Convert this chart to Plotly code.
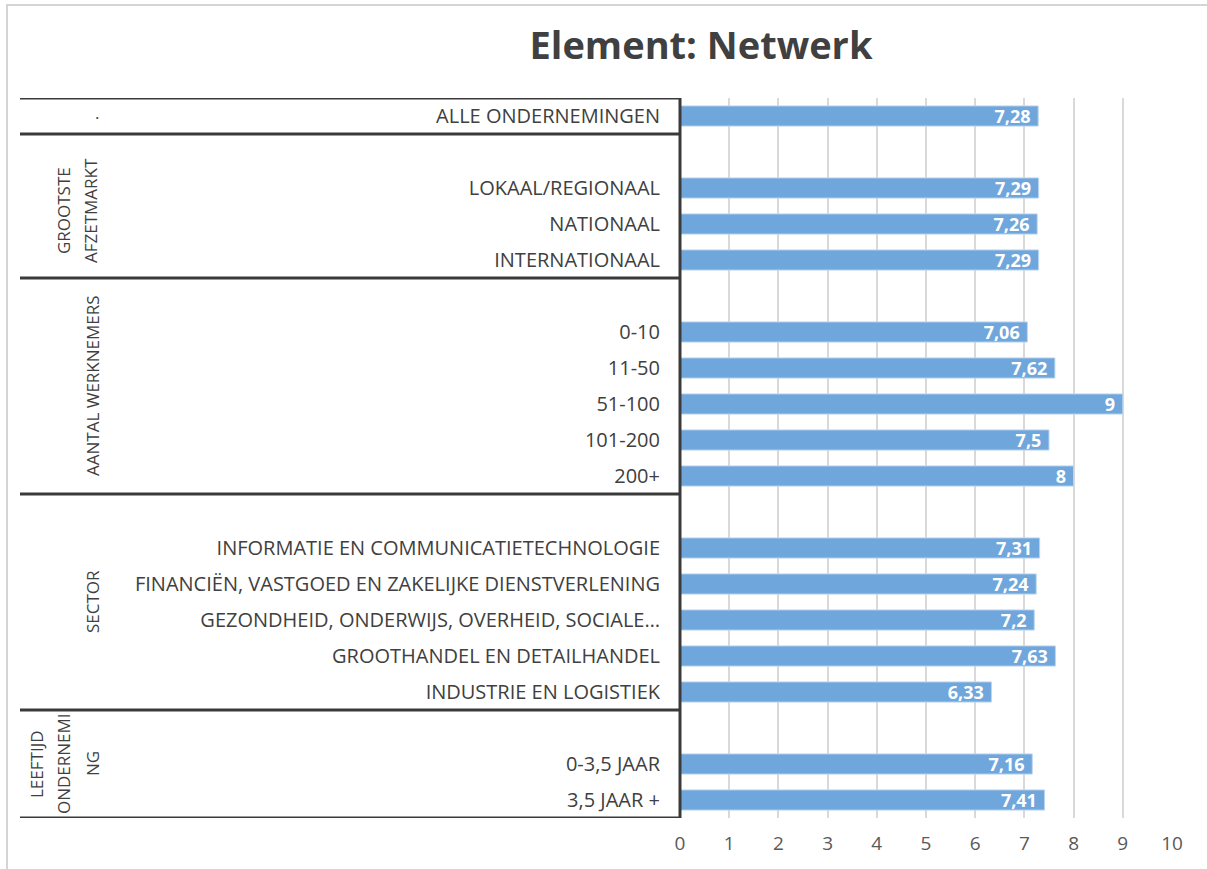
import plotly.graph_objects as go

title = "Element: Netwerk"

# rows top-to-bottom; "" marks blank spacer rows
categories = [
    "ALLE ONDERNEMINGEN", "",
    "LOKAAL/REGIONAAL", "NATIONAAL", "INTERNATIONAAL", "",
    "0-10", "11-50", "51-100", "101-200", "200+", "",
    "INFORMATIE EN COMMUNICATIETECHNOLOGIE",
    "FINANCIËN, VASTGOED EN ZAKELIJKE DIENSTVERLENING",
    "GEZONDHEID, ONDERWIJS, OVERHEID, SOCIALE…",
    "GROOTHANDEL EN DETAILHANDEL",
    "INDUSTRIE EN LOGISTIEK", "",
    "0-3,5 JAAR", "3,5 JAAR +",
]
values = [
    7.28, None,
    7.29, 7.26, 7.29, None,
    7.06, 7.62, 9, 7.5, 8, None,
    7.31, 7.24, 7.2, 7.63, 6.33, None,
    7.16, 7.41,
]
# group labels (lines of rotated text) and their row spans
group_labels = [
    ["."],
    ["GROOTSTE", "AFZETMARKT"],
    ["AANTAL WERKNEMERS"],
    ["SECTOR"],
    ["LEEFTIJD", "ONDERNEMI", "NG"],
]
group_spans = [(0, 0), (1, 4), (5, 10), (11, 16), (17, 19)]
x_ticks = list(range(0, 11))

W, H = 1207, 869
ml, mr, mt, mb = 680, 35, 98, 51
pw = W - ml - mr
ph = H - mt - mb

def px_to_paper(px):
    return (px - ml) / pw

def py_to_paper(py):
    return 1 - (py - mt) / ph

n = len(categories)
ypos = list(range(n))
labels = [("" if v is None else str(v).replace(".", ",") + "\u00a0") for v in values]

FONT = "Open Sans"
fig = go.Figure()
fig.add_trace(go.Bar(
    x=values, y=ypos, orientation="h",
    marker=dict(color="#6fa6db", line=dict(color="#bcd6f0", width=1)),
    text=labels, textposition="inside", insidetextanchor="end",
    textangle=0, constraintext="none",
    textfont=dict(family=FONT, size=18, color="white", weight=700),
    cliponaxis=False, hoverinfo="skip",
))

shapes = []
line_col = "#3a3a3a"
seps = [-0.5] + [g[1] + 0.5 for g in group_spans]
for s in seps:
    shapes.append(dict(type="line", xref="paper", yref="y",
                       x0=px_to_paper(20), x1=0, y0=s, y1=s,
                       line=dict(color=line_col, width=3)))
shapes.append(dict(type="line", xref="paper", yref="y",
                   x0=0, x1=0, y0=-0.5, y1=n - 0.5,
                   line=dict(color=line_col, width=3)))
# outer light frame
shapes.append(dict(type="rect", xref="paper", yref="paper",
                   x0=px_to_paper(7), x1=px_to_paper(1215),
                   y0=py_to_paper(900), y1=py_to_paper(5),
                   line=dict(color="#c8c8c8", width=1.5), layer="below"))

annotations = []
group_x = {0: [97], 1: [63, 90], 2: [92], 3: [92], 4: [36, 63, 92]}
group_yc = {0: -0.1, 1: 2.64, 2: 7.5, 3: 13.5, 4: 18.0}
for gi, lines in enumerate(group_labels):
    for line, xp in zip(lines, group_x[gi]):
        annotations.append(dict(text=line, xref="paper", yref="y",
                                x=px_to_paper(xp), y=group_yc[gi],
                                xanchor="center", yanchor="middle",
                                textangle=0 if gi == 0 else -90, showarrow=False,
                                font=dict(family=FONT, size=17, color="#404040")))

fig.update_layout(
    width=W, height=H,
    margin=dict(l=ml, r=mr, t=mt, b=mb),
    paper_bgcolor="white", plot_bgcolor="white",
    title=dict(text=f"<b>{title}</b>", x=px_to_paper(701), xref="paper",
               xanchor="center", y=1 - 46 / H, yanchor="middle",
               font=dict(family=FONT, size=38, color="#404040")),
    xaxis=dict(range=[0, 10], tickvals=x_ticks, ticktext=[str(t) for t in x_ticks],
               showgrid=True, gridcolor="#d9d9d9", gridwidth=1.5,
               zeroline=False, showline=False, ticks="",
               ticklabelstandoff=12,
               tickfont=dict(family=FONT, size=19, color="#595959")),
    yaxis=dict(range=[n - 0.5, -0.5], tickvals=ypos, ticktext=categories,
               showgrid=False, zeroline=False, showline=False, ticks="",
               ticklabelstandoff=19,
               tickfont=dict(family=FONT, size=20, color="#404040")),
    bargap=0.44, showlegend=False,
    shapes=shapes, annotations=annotations,
)

fig.write_html("out.html")
